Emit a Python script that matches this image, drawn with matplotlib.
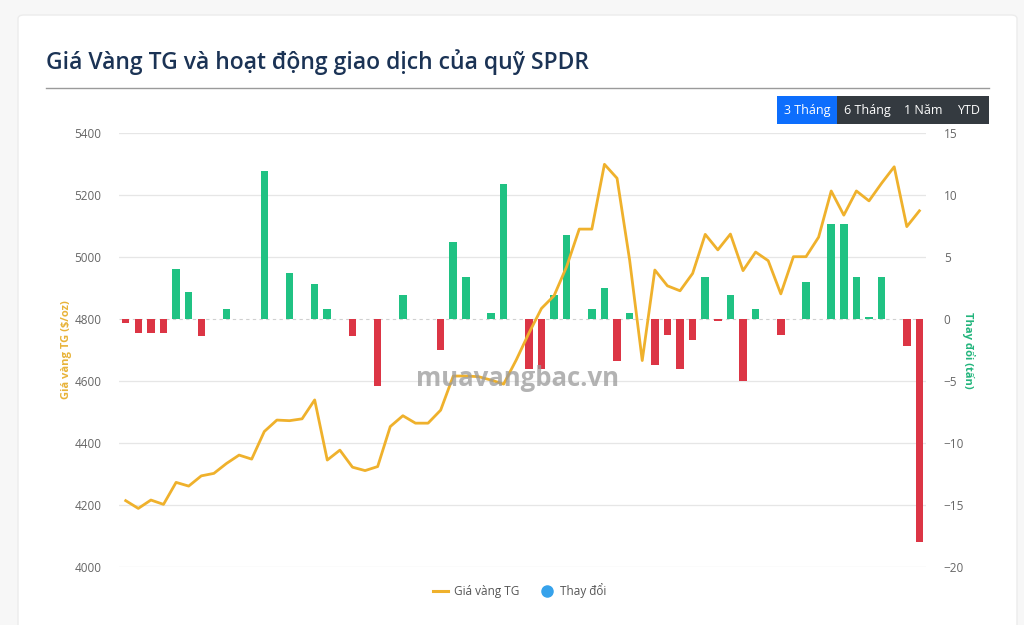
import matplotlib
matplotlib.use("Agg")
import matplotlib.pyplot as plt
from matplotlib.patches import FancyBboxPatch, Rectangle
from matplotlib.lines import Line2D

plt.rcParams["font.family"] = ["Open Sans", "DejaVu Sans"]

# gold price (USD/oz), one point per session
gold_price = [
    4214, 4189, 4216, 4202, 4273, 4261, 4294, 4302, 4334, 4361,
    4348, 4437, 4474, 4472, 4478, 4539, 4345, 4377, 4322, 4311,
    4324, 4453, 4488, 4464, 4464, 4506, 4616, 4616, 4614, 4603,
    4590, 4668, 4754, 4834, 4875, 4969, 5090, 5090, 5299, 5254,
    4990, 4666, 4958, 4907, 4891, 4947, 5073, 5023, 5074, 4956,
    5016, 4988, 4881, 5001, 5001, 5064, 5213, 5135, 5213, 5181,
    5238, 5291, 5098, 5149,
]
# SPDR holding change (tonnes)
spdr_change = [
    -0.3, -1.1, -1.1, -1.1, 4.0, 2.2, -1.4, 0.0, 0.8, 0.0,
    0.0, 11.9, 0.0, 3.7, 0.0, 2.8, 0.8, 0.0, -1.4, 0.0,
    -5.4, 0.0, 1.9, 0.0, 0.0, -2.5, 6.2, 3.4, 0.0, 0.5,
    10.9, 0.0, -4.0, -4.0, 1.9, 6.8, 0.0, 0.8, 2.5, -3.4,
    0.5, 0.0, -3.7, -1.3, -4.0, -1.7, 3.4, -0.2, 1.9, -5.0,
    0.8, 0.0, -1.3, 0.0, 3.0, 0.0, 7.7, 7.7, 3.4, 0.2,
    3.4, 0.0, -2.2, -18.0,
]
left_ticks = [4000, 4200, 4400, 4600, 4800, 5000, 5200, 5400]
right_ticks = [-20, -15, -10, -5, 0, 5, 10, 15]
buttons = ["3 Tháng", "6 Tháng", "1 Năm", "YTD"]

GREEN = "#20c283"
RED = "#dc3545"
GOLD = "#efb12c"
TICK = "#666666"

W, H = 1024, 625
fig = plt.figure(figsize=(W / 100, H / 100), dpi=100)
fig.patch.set_facecolor("#f7f7f7")


def fx(px):
    return px / W


def fy(py):
    return 1 - py / H


# card
card = FancyBboxPatch((fx(18), fy(640)), fx(999), fy(15) - fy(640),
                      boxstyle="round,pad=0,rounding_size=0.006",
                      transform=fig.transFigure, facecolor="white",
                      edgecolor="#ececec", linewidth=1.0, zorder=-5)
fig.patches.append(card)

fig.text(fx(46), fy(62), "Giá Vàng TG và hoạt động giao dịch của quỹ SPDR",
         fontsize=16.5, fontweight="semibold", color="#1b3355", va="center")
fig.add_artist(Line2D([fx(46), fx(989)], [fy(88), fy(88)], color="#9a9a9a",
                      linewidth=1.0, transform=fig.transFigure))

# period buttons
bx = [777, 837, 898, 949, 989]
for i, lab in enumerate(buttons):
    col = "#0d6efd" if i == 0 else "#343a40"
    fig.patches.append(Rectangle((fx(bx[i]), fy(124)), fx(bx[i + 1] - bx[i]), fy(96) - fy(124),
                                 transform=fig.transFigure, facecolor=col,
                                 edgecolor="none", zorder=1))
    fig.text(fx((bx[i] + bx[i + 1]) / 2), fy(110.5), lab, color="white",
             fontsize=9, ha="center", va="center")

ax = fig.add_axes([fx(119.4), fy(567), fx(806.3), fy(133) - fy(567)])
ax2 = ax.twinx()

x = list(range(len(gold_price)))
colors = [GREEN if v >= 0 else RED for v in spdr_change]
ax.bar(x, spdr_change, width=0.6, color=colors, zorder=3)
ax.axhline(0, color="#d0d0d0", linewidth=0.8, linestyle=(0, (3, 3)), zorder=2)
ax.set_ylim(-20, 15)
ax.set_yticks(right_ticks)
ax.set_xlim(-0.5, len(x) - 0.5)
ax.yaxis.tick_right()
ax.yaxis.set_label_position("right")

ax2.plot(x, gold_price, color=GOLD, linewidth=2.0, zorder=4)
ax2.set_ylim(4000, 5400)
ax2.set_yticks(left_ticks)
ax2.yaxis.tick_left()
ax2.yaxis.set_label_position("left")

for a in (ax, ax2):
    a.set_xticks([])
    a.tick_params(axis="y", length=0, labelsize=8.5, labelcolor=TICK, pad=13)
    for s in a.spines.values():
        s.set_visible(False)
    a.patch.set_alpha(0)

for t in right_ticks:
    if t != 0:
        ax.axhline(t, color="#e6e6e6", linewidth=0.9, zorder=1)

ax2.set_ylabel("Giá vàng TG ($/oz)", color="#e8b339", fontsize=8,
               fontweight="bold", labelpad=2)
ax.set_ylabel("Thay đổi (tấn)", color="#22b57c", fontsize=8,
              fontweight="bold", rotation=-90, labelpad=8)

fig.text(fx(517), fy(378), "muavangbac.vn", fontsize=18.5, fontweight="bold",
         color="#9a9a9a", alpha=0.75, ha="center", va="center", zorder=10)

handles = [Line2D([0], [0], color=GOLD, linewidth=2.2),
           Line2D([0], [0], marker="o", color="none", markerfacecolor="#36a2eb",
                  markeredgecolor="#36a2eb", markersize=8)]
fig.legend(handles, ["Giá vàng TG", "Thay đổi"], loc="center",
           bbox_to_anchor=(fx(520), fy(591)), ncol=2, frameon=False,
           fontsize=8.5, handlelength=1.2, handletextpad=0.5, columnspacing=1.8,
           labelcolor="#555555")

fig.savefig("out.png", dpi=100, facecolor=fig.get_facecolor())
